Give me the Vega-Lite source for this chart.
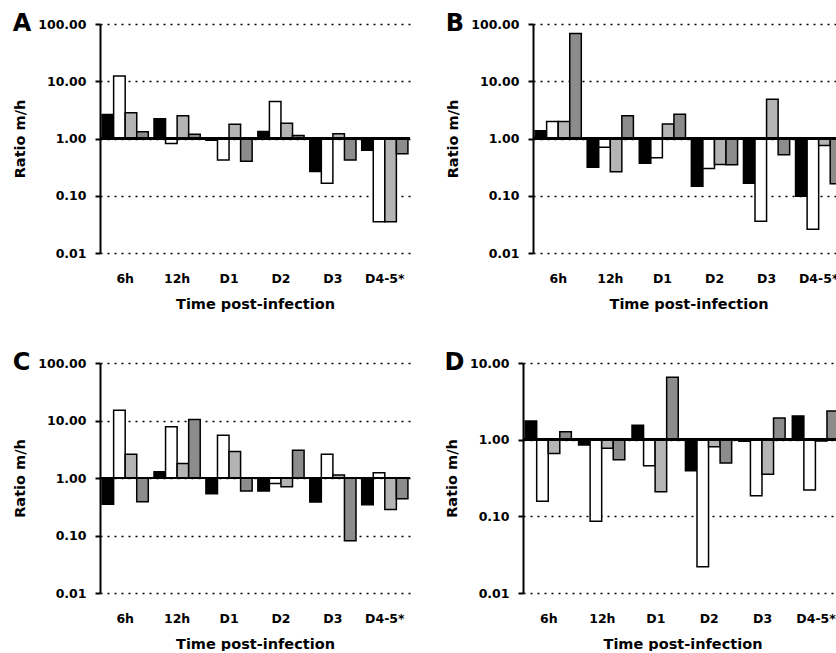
{
  "$schema": "https://vega.github.io/schema/vega-lite/v6.json",
  "padding": {"left": 12, "top": 12, "right": -8, "bottom": 0},
  "background": "white",
  "datasets": {
    "ratios": [
      {"panel":"A","time":"6h","series":"S1","ratio":2.63},{"panel":"A","time":"6h","series":"S2","ratio":12.3},{"panel":"A","time":"6h","series":"S3","ratio":2.81},{"panel":"A","time":"6h","series":"S4","ratio":1.31},
      {"panel":"A","time":"12h","series":"S1","ratio":2.21},{"panel":"A","time":"12h","series":"S2","ratio":0.82},{"panel":"A","time":"12h","series":"S3","ratio":2.49},{"panel":"A","time":"12h","series":"S4","ratio":1.19},
      {"panel":"A","time":"D1","series":"S1","ratio":0.93},{"panel":"A","time":"D1","series":"S2","ratio":0.42},{"panel":"A","time":"D1","series":"S3","ratio":1.78},{"panel":"A","time":"D1","series":"S4","ratio":0.40},
      {"panel":"A","time":"D2","series":"S1","ratio":1.33},{"panel":"A","time":"D2","series":"S2","ratio":4.43},{"panel":"A","time":"D2","series":"S3","ratio":1.85},{"panel":"A","time":"D2","series":"S4","ratio":1.13},
      {"panel":"A","time":"D3","series":"S1","ratio":0.265},{"panel":"A","time":"D3","series":"S2","ratio":0.166},{"panel":"A","time":"D3","series":"S3","ratio":1.21},{"panel":"A","time":"D3","series":"S4","ratio":0.42},
      {"panel":"A","time":"D4-5*","series":"S1","ratio":0.625},{"panel":"A","time":"D4-5*","series":"S2","ratio":0.035},{"panel":"A","time":"D4-5*","series":"S3","ratio":0.035},{"panel":"A","time":"D4-5*","series":"S4","ratio":0.54},
      {"panel":"B","time":"6h","series":"S1","ratio":1.36},{"panel":"B","time":"6h","series":"S2","ratio":1.98},{"panel":"B","time":"6h","series":"S3","ratio":1.98},{"panel":"B","time":"6h","series":"S4","ratio":68},
      {"panel":"B","time":"12h","series":"S1","ratio":0.316},{"panel":"B","time":"12h","series":"S2","ratio":0.70},{"panel":"B","time":"12h","series":"S3","ratio":0.262},{"panel":"B","time":"12h","series":"S4","ratio":2.49},
      {"panel":"B","time":"D1","series":"S1","ratio":0.37},{"panel":"B","time":"D1","series":"S2","ratio":0.46},{"panel":"B","time":"D1","series":"S3","ratio":1.80},{"panel":"B","time":"D1","series":"S4","ratio":2.66},
      {"panel":"B","time":"D2","series":"S1","ratio":0.146},{"panel":"B","time":"D2","series":"S2","ratio":0.30},{"panel":"B","time":"D2","series":"S3","ratio":0.352},{"panel":"B","time":"D2","series":"S4","ratio":0.348},
      {"panel":"B","time":"D3","series":"S1","ratio":0.166},{"panel":"B","time":"D3","series":"S2","ratio":0.036},{"panel":"B","time":"D3","series":"S3","ratio":4.85},{"panel":"B","time":"D3","series":"S4","ratio":0.52},
      {"panel":"B","time":"D4-5*","series":"S1","ratio":0.098},{"panel":"B","time":"D4-5*","series":"S2","ratio":0.026},{"panel":"B","time":"D4-5*","series":"S3","ratio":0.755},{"panel":"B","time":"D4-5*","series":"S4","ratio":0.162},
      {"panel":"C","time":"6h","series":"S1","ratio":0.35},{"panel":"C","time":"6h","series":"S2","ratio":15.1},{"panel":"C","time":"6h","series":"S3","ratio":2.59},{"panel":"C","time":"6h","series":"S4","ratio":0.386},
      {"panel":"C","time":"12h","series":"S1","ratio":1.29},{"panel":"C","time":"12h","series":"S2","ratio":7.76},{"panel":"C","time":"12h","series":"S3","ratio":1.78},{"panel":"C","time":"12h","series":"S4","ratio":10.4},
      {"panel":"C","time":"D1","series":"S1","ratio":0.533},{"panel":"C","time":"D1","series":"S2","ratio":5.55},{"panel":"C","time":"D1","series":"S3","ratio":2.88},{"panel":"C","time":"D1","series":"S4","ratio":0.593},
      {"panel":"C","time":"D2","series":"S1","ratio":0.593},{"panel":"C","time":"D2","series":"S2","ratio":0.80},{"panel":"C","time":"D2","series":"S3","ratio":0.706},{"panel":"C","time":"D2","series":"S4","ratio":3.04},
      {"panel":"C","time":"D3","series":"S1","ratio":0.381},{"panel":"C","time":"D3","series":"S2","ratio":2.59},{"panel":"C","time":"D3","series":"S3","ratio":1.13},{"panel":"C","time":"D3","series":"S4","ratio":0.081},
      {"panel":"C","time":"D4-5*","series":"S1","ratio":0.343},{"panel":"C","time":"D4-5*","series":"S2","ratio":1.24},{"panel":"C","time":"D4-5*","series":"S3","ratio":0.284},{"panel":"C","time":"D4-5*","series":"S4","ratio":0.436},
      {"panel":"D","time":"6h","series":"S1","ratio":1.75},{"panel":"D","time":"6h","series":"S2","ratio":0.157},{"panel":"D","time":"6h","series":"S3","ratio":0.66},{"panel":"D","time":"6h","series":"S4","ratio":1.27},
      {"panel":"D","time":"12h","series":"S1","ratio":0.85},{"panel":"D","time":"12h","series":"S2","ratio":0.086},{"panel":"D","time":"12h","series":"S3","ratio":0.77},{"panel":"D","time":"12h","series":"S4","ratio":0.548},
      {"panel":"D","time":"D1","series":"S1","ratio":1.54},{"panel":"D","time":"D1","series":"S2","ratio":0.458},{"panel":"D","time":"D1","series":"S3","ratio":0.21},{"panel":"D","time":"D1","series":"S4","ratio":6.5},
      {"panel":"D","time":"D2","series":"S1","ratio":0.394},{"panel":"D","time":"D2","series":"S2","ratio":0.022},{"panel":"D","time":"D2","series":"S3","ratio":0.81},{"panel":"D","time":"D2","series":"S4","ratio":0.496},
      {"panel":"D","time":"D3","series":"S1","ratio":0.95},{"panel":"D","time":"D3","series":"S2","ratio":0.186},{"panel":"D","time":"D3","series":"S3","ratio":0.353},{"panel":"D","time":"D3","series":"S4","ratio":1.92},
      {"panel":"D","time":"D4-5*","series":"S1","ratio":2.04},{"panel":"D","time":"D4-5*","series":"S2","ratio":0.22},{"panel":"D","time":"D4-5*","series":"S3","ratio":0.96},{"panel":"D","time":"D4-5*","series":"S4","ratio":2.37}
    ]
  },
  "vconcat": [
    {
      "hconcat": [
        {
          "title": {"text": "A"},
          "width": 310, "height": 229,
          "data": {"name": "ratios"},
          "transform": [{"filter": "datum.panel === 'A'"}],
          "layer": [
            {"mark": {"type": "bar", "stroke": "black", "strokeWidth": 1.5},
             "encoding": {
               "x": {"field": "time", "type": "nominal", "sort": ["6h","12h","D1","D2","D3","D4-5*"], "scale": {"paddingInner": 0.11, "paddingOuter": 0.04}, "title": "Time post-infection"},
               "xOffset": {"field": "series", "type": "nominal", "sort": ["S1","S2","S3","S4"], "scale": {"paddingInner": 0, "paddingOuter": 0}},
               "y": {"field": "ratio", "type": "quantitative", "scale": {"type": "log", "domain": [0.01, 100], "nice": false}, "axis": {"values": [0.01, 0.1, 1, 10, 100], "format": ".2f"}, "title": "Ratio m/h"},
               "y2": {"datum": 1},
               "fill": {"field": "series", "type": "nominal", "scale": {"domain": ["S1","S2","S3","S4"], "range": ["#000000","#ffffff","#b4b4b4","#8c8c8c"]}, "legend": null}
             }},
            {"mark": {"type": "rule", "color": "black", "strokeWidth": 2}, "encoding": {"y": {"datum": 1}}}
          ]
        },
        {
          "title": {"text": "B"},
          "width": 311, "height": 229,
          "data": {"name": "ratios"},
          "transform": [{"filter": "datum.panel === 'B'"}],
          "layer": [
            {"mark": {"type": "bar", "stroke": "black", "strokeWidth": 1.5},
             "encoding": {
               "x": {"field": "time", "type": "nominal", "sort": ["6h","12h","D1","D2","D3","D4-5*"], "scale": {"paddingInner": 0.11, "paddingOuter": 0.04}, "title": "Time post-infection"},
               "xOffset": {"field": "series", "type": "nominal", "sort": ["S1","S2","S3","S4"], "scale": {"paddingInner": 0, "paddingOuter": 0}},
               "y": {"field": "ratio", "type": "quantitative", "scale": {"type": "log", "domain": [0.01, 100], "nice": false}, "axis": {"values": [0.01, 0.1, 1, 10, 100], "format": ".2f"}, "title": "Ratio m/h"},
               "y2": {"datum": 1},
               "fill": {"field": "series", "type": "nominal", "scale": {"domain": ["S1","S2","S3","S4"], "range": ["#000000","#ffffff","#b4b4b4","#8c8c8c"]}, "legend": null}
             }},
            {"mark": {"type": "rule", "color": "black", "strokeWidth": 2}, "encoding": {"y": {"datum": 1}}}
          ]
        }
      ],
      "spacing": 123,
      "bounds": "flush"
    },
    {
      "hconcat": [
        {
          "title": {"text": "C"},
          "width": 310, "height": 230,
          "data": {"name": "ratios"},
          "transform": [{"filter": "datum.panel === 'C'"}],
          "layer": [
            {"mark": {"type": "bar", "stroke": "black", "strokeWidth": 1.5},
             "encoding": {
               "x": {"field": "time", "type": "nominal", "sort": ["6h","12h","D1","D2","D3","D4-5*"], "scale": {"paddingInner": 0.11, "paddingOuter": 0.04}, "title": "Time post-infection"},
               "xOffset": {"field": "series", "type": "nominal", "sort": ["S1","S2","S3","S4"], "scale": {"paddingInner": 0, "paddingOuter": 0}},
               "y": {"field": "ratio", "type": "quantitative", "scale": {"type": "log", "domain": [0.01, 100], "nice": false}, "axis": {"values": [0.01, 0.1, 1, 10, 100], "format": ".2f"}, "title": "Ratio m/h"},
               "y2": {"datum": 1},
               "fill": {"field": "series", "type": "nominal", "scale": {"domain": ["S1","S2","S3","S4"], "range": ["#000000","#ffffff","#b4b4b4","#8c8c8c"]}, "legend": null}
             }},
            {"mark": {"type": "rule", "color": "black", "strokeWidth": 2}, "encoding": {"y": {"datum": 1}}}
          ]
        },
        {
          "title": {"text": "D"},
          "width": 319, "height": 230,
          "data": {"name": "ratios"},
          "transform": [{"filter": "datum.panel === 'D'"}],
          "layer": [
            {"mark": {"type": "bar", "stroke": "black", "strokeWidth": 1.5},
             "encoding": {
               "x": {"field": "time", "type": "nominal", "sort": ["6h","12h","D1","D2","D3","D4-5*"], "scale": {"paddingInner": 0.11, "paddingOuter": 0.04}, "title": "Time post-infection"},
               "xOffset": {"field": "series", "type": "nominal", "sort": ["S1","S2","S3","S4"], "scale": {"paddingInner": 0, "paddingOuter": 0}},
               "y": {"field": "ratio", "type": "quantitative", "scale": {"type": "log", "domain": [0.01, 10], "nice": false}, "axis": {"values": [0.01, 0.1, 1, 10], "format": ".2f"}, "title": "Ratio m/h"},
               "y2": {"datum": 1},
               "fill": {"field": "series", "type": "nominal", "scale": {"domain": ["S1","S2","S3","S4"], "range": ["#000000","#ffffff","#b4b4b4","#8c8c8c"]}, "legend": null}
             }},
            {"mark": {"type": "rule", "color": "black", "strokeWidth": 2}, "encoding": {"y": {"datum": 1}}}
          ]
        }
      ],
      "spacing": 113,
      "bounds": "flush"
    }
  ],
  "spacing": 40,
  "config": {
    "font": "DejaVu Sans",
    "view": {"stroke": null},
    "axis": {"labelFont": "DejaVu Sans", "labelFontWeight": "bold", "labelFontSize": 12.5, "labelColor": "black", "titleFont": "DejaVu Sans", "titleFontWeight": "bold", "titleFontSize": 14.5, "titleColor": "black"},
    "axisX": {"domain": false, "ticks": false, "tickSize": 0, "grid": false, "labelPadding": 19, "titlePadding": 13, "labelAngle": 0},
    "axisY": {"domainColor": "black", "domainWidth": 2, "tickColor": "black", "tickWidth": 2, "tickSize": 5, "labelPadding": 9, "titlePadding": 10, "grid": true, "gridColor": "black", "gridDash": [2, 5], "gridWidth": 1.5, "gridOpacity": 1},
    "title": {"font": "DejaVu Sans", "fontWeight": "bold", "fontSize": 24, "anchor": "start", "frame": "bounds", "color": "black", "offset": -18}
  }
}
